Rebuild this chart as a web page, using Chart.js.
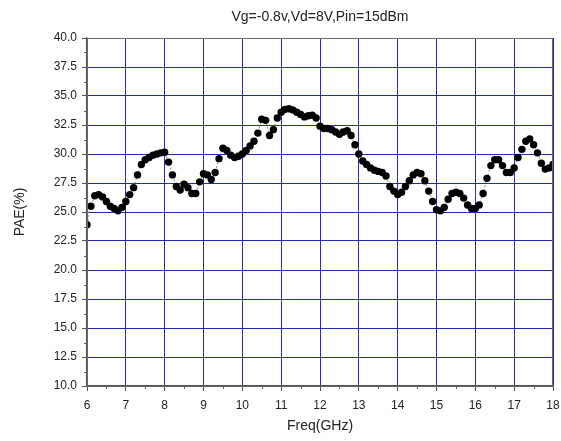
<!DOCTYPE html>
<html>
<head>
<meta charset="utf-8">
<script src="https://cdn.jsdelivr.net/npm/chart.js@4.4.1/dist/chart.umd.min.js"></script>
<style>
  html, body { margin: 0; padding: 0; background: #fff; }
</style>
</head>
<body>
<canvas id="paeChart" width="561" height="441"></canvas>
<script>
const chartTitle = 'Vg=-0.8v,Vd=8V,Pin=15dBm';
const xTitle = 'Freq(GHz)';
const yTitle = 'PAE(%)';

const freqGHz = [
  6.0, 6.1, 6.2, 6.3, 6.4, 6.5, 6.6, 6.7, 6.8, 6.9,
  7.0, 7.1, 7.2, 7.3, 7.4, 7.5, 7.6, 7.7, 7.8, 7.9,
  8.0, 8.1, 8.2, 8.3, 8.4, 8.5, 8.6, 8.7, 8.8, 8.9,
  9.0, 9.1, 9.2, 9.3, 9.4, 9.5, 9.6, 9.7, 9.8, 9.9,
  10.0, 10.1, 10.2, 10.3, 10.4, 10.5, 10.6, 10.7, 10.8, 10.9,
  11.0, 11.1, 11.2, 11.3, 11.4, 11.5, 11.6, 11.7, 11.8, 11.9,
  12.0, 12.1, 12.2, 12.3, 12.4, 12.5, 12.6, 12.7, 12.8, 12.9,
  13.0, 13.1, 13.2, 13.3, 13.4, 13.5, 13.6, 13.7, 13.8, 13.9,
  14.0, 14.1, 14.2, 14.3, 14.4, 14.5, 14.6, 14.7, 14.8, 14.9,
  15.0, 15.1, 15.2, 15.3, 15.4, 15.5, 15.6, 15.7, 15.8, 15.9,
  16.0, 16.1, 16.2, 16.3, 16.4, 16.5, 16.6, 16.7, 16.8, 16.9,
  17.0, 17.1, 17.2, 17.3, 17.4, 17.5, 17.6, 17.7, 17.8, 17.9,
  18.0
];

const paePercent = [
  23.9, 25.5, 26.4, 26.5, 26.3, 25.9, 25.5, 25.3, 25.1, 25.4,
  25.9, 26.5, 27.1, 28.2, 29.1, 29.5, 29.7, 29.9, 30.0, 30.1,
  30.15, 29.3, 28.2, 27.2, 26.9, 27.4, 27.1, 26.6, 26.6, 27.6,
  28.3, 28.2, 27.8, 28.4, 29.6, 30.5, 30.3, 29.9, 29.7, 29.8,
  30.0, 30.3, 30.7, 31.1, 31.8, 33.0, 32.9, 31.6, 32.1, 33.1,
  33.6, 33.85, 33.9, 33.8, 33.6, 33.4, 33.2, 33.3, 33.35, 33.1,
  32.4, 32.2, 32.2, 32.1, 31.9, 31.7, 31.9, 32.0, 31.6, 30.8,
  30.0, 29.4, 29.1, 28.8, 28.6, 28.5, 28.4, 28.1, 27.2, 26.8,
  26.5, 26.7, 27.2, 27.7, 28.2, 28.4, 28.3, 27.7, 26.8, 25.9,
  25.2, 25.1, 25.4, 26.1, 26.6, 26.7, 26.6, 26.2, 25.6, 25.3,
  25.3, 25.6, 26.6, 27.9, 29.0, 29.5, 29.5, 29.0, 28.4, 28.4,
  28.8, 29.7, 30.4, 31.1, 31.3, 30.8, 30.1, 29.2, 28.7, 28.8,
  29.1
];

const xRange = [6, 18];
const yRange = [10, 40];

Chart.defaults.font.family = "'Liberation Sans', Arial, sans-serif";
Chart.defaults.color = '#222';

// title over the plot, plus closed frame and minor ticks like the original plot
const framePlugin = {
  id: 'frame',
  afterDraw(chart) {
    const {ctx, chartArea: a} = chart;
    ctx.save();
    ctx.strokeStyle = '#666';
    ctx.lineWidth = 1;
    ctx.strokeRect(a.left + 0.5, a.top + 0.5, a.right - a.left - 1, a.bottom - a.top);

    // minor ticks
    const xs = chart.scales.x, ys = chart.scales.y;
    ctx.beginPath();
    for (let v = xRange[0] + 0.5; v < xRange[1]; v += 1) {
      const px = Math.round(xs.getPixelForValue(v)) + 0.5;
      ctx.moveTo(px, a.bottom);
      ctx.lineTo(px, a.bottom + 3);
    }
    for (let v = yRange[0] + 1.25; v < yRange[1]; v += 2.5) {
      const py = Math.round(ys.getPixelForValue(v)) + 0.5;
      ctx.moveTo(a.left, py);
      ctx.lineTo(a.left - 3, py);
    }
    ctx.stroke();

    ctx.fillStyle = '#222';
    ctx.font = "14px 'Liberation Sans', Arial, sans-serif";
    ctx.textAlign = 'center';
    ctx.textBaseline = 'middle';
    ctx.fillText(chartTitle, (a.left + a.right) / 2, 17);
    ctx.restore();
  }
};

new Chart(document.getElementById('paeChart'), {
  type: 'scatter',
  data: {
    datasets: [{
      data: freqGHz.map((f, i) => ({x: f, y: paePercent[i]})),
      showLine: true,
      borderColor: 'rgba(110,110,110,0.8)',
      borderWidth: 1,
      borderDash: [2, 2],
      pointRadius: 3.7,
      pointBackgroundColor: '#000',
      pointBorderColor: '#000',
      pointBorderWidth: 0
    }]
  },
  options: {
    responsive: false,
    animation: false,
    layout: {padding: {left: 0, right: 8, top: 38, bottom: 0}},
    plugins: {legend: {display: false}, tooltip: {enabled: false}},
    scales: {
      x: {
        type: 'linear',
        min: xRange[0],
        max: xRange[1],
        ticks: {stepSize: 1, maxRotation: 0, padding: 7, font: {size: 12}, color: '#222'},
        grid: {color: '#2828b4', lineWidth: 1, tickColor: '#555', tickLength: 5},
        border: {color: '#555', width: 1.2},
        title: {display: true, text: xTitle, font: {size: 14}, color: '#222', padding: {top: 0, bottom: 6}},
        afterFit: s => { s.height = 55; s.paddingLeft = 0; s.paddingRight = 0; }
      },
      y: {
        min: yRange[0],
        max: yRange[1],
        ticks: {stepSize: 2.5, padding: 5, font: {size: 12}, color: '#222', callback: v => v.toFixed(1)},
        grid: {color: '#2828b4', lineWidth: 1, tickColor: '#555', tickLength: 5},
        border: {color: '#555', width: 1.2},
        title: {display: true, text: yTitle, font: {size: 14}, color: '#222', padding: {top: 12, bottom: 0}},
        afterFit: s => { s.width = 87; }
      }
    }
  },
  plugins: [framePlugin]
});
</script>
</body>
</html>
